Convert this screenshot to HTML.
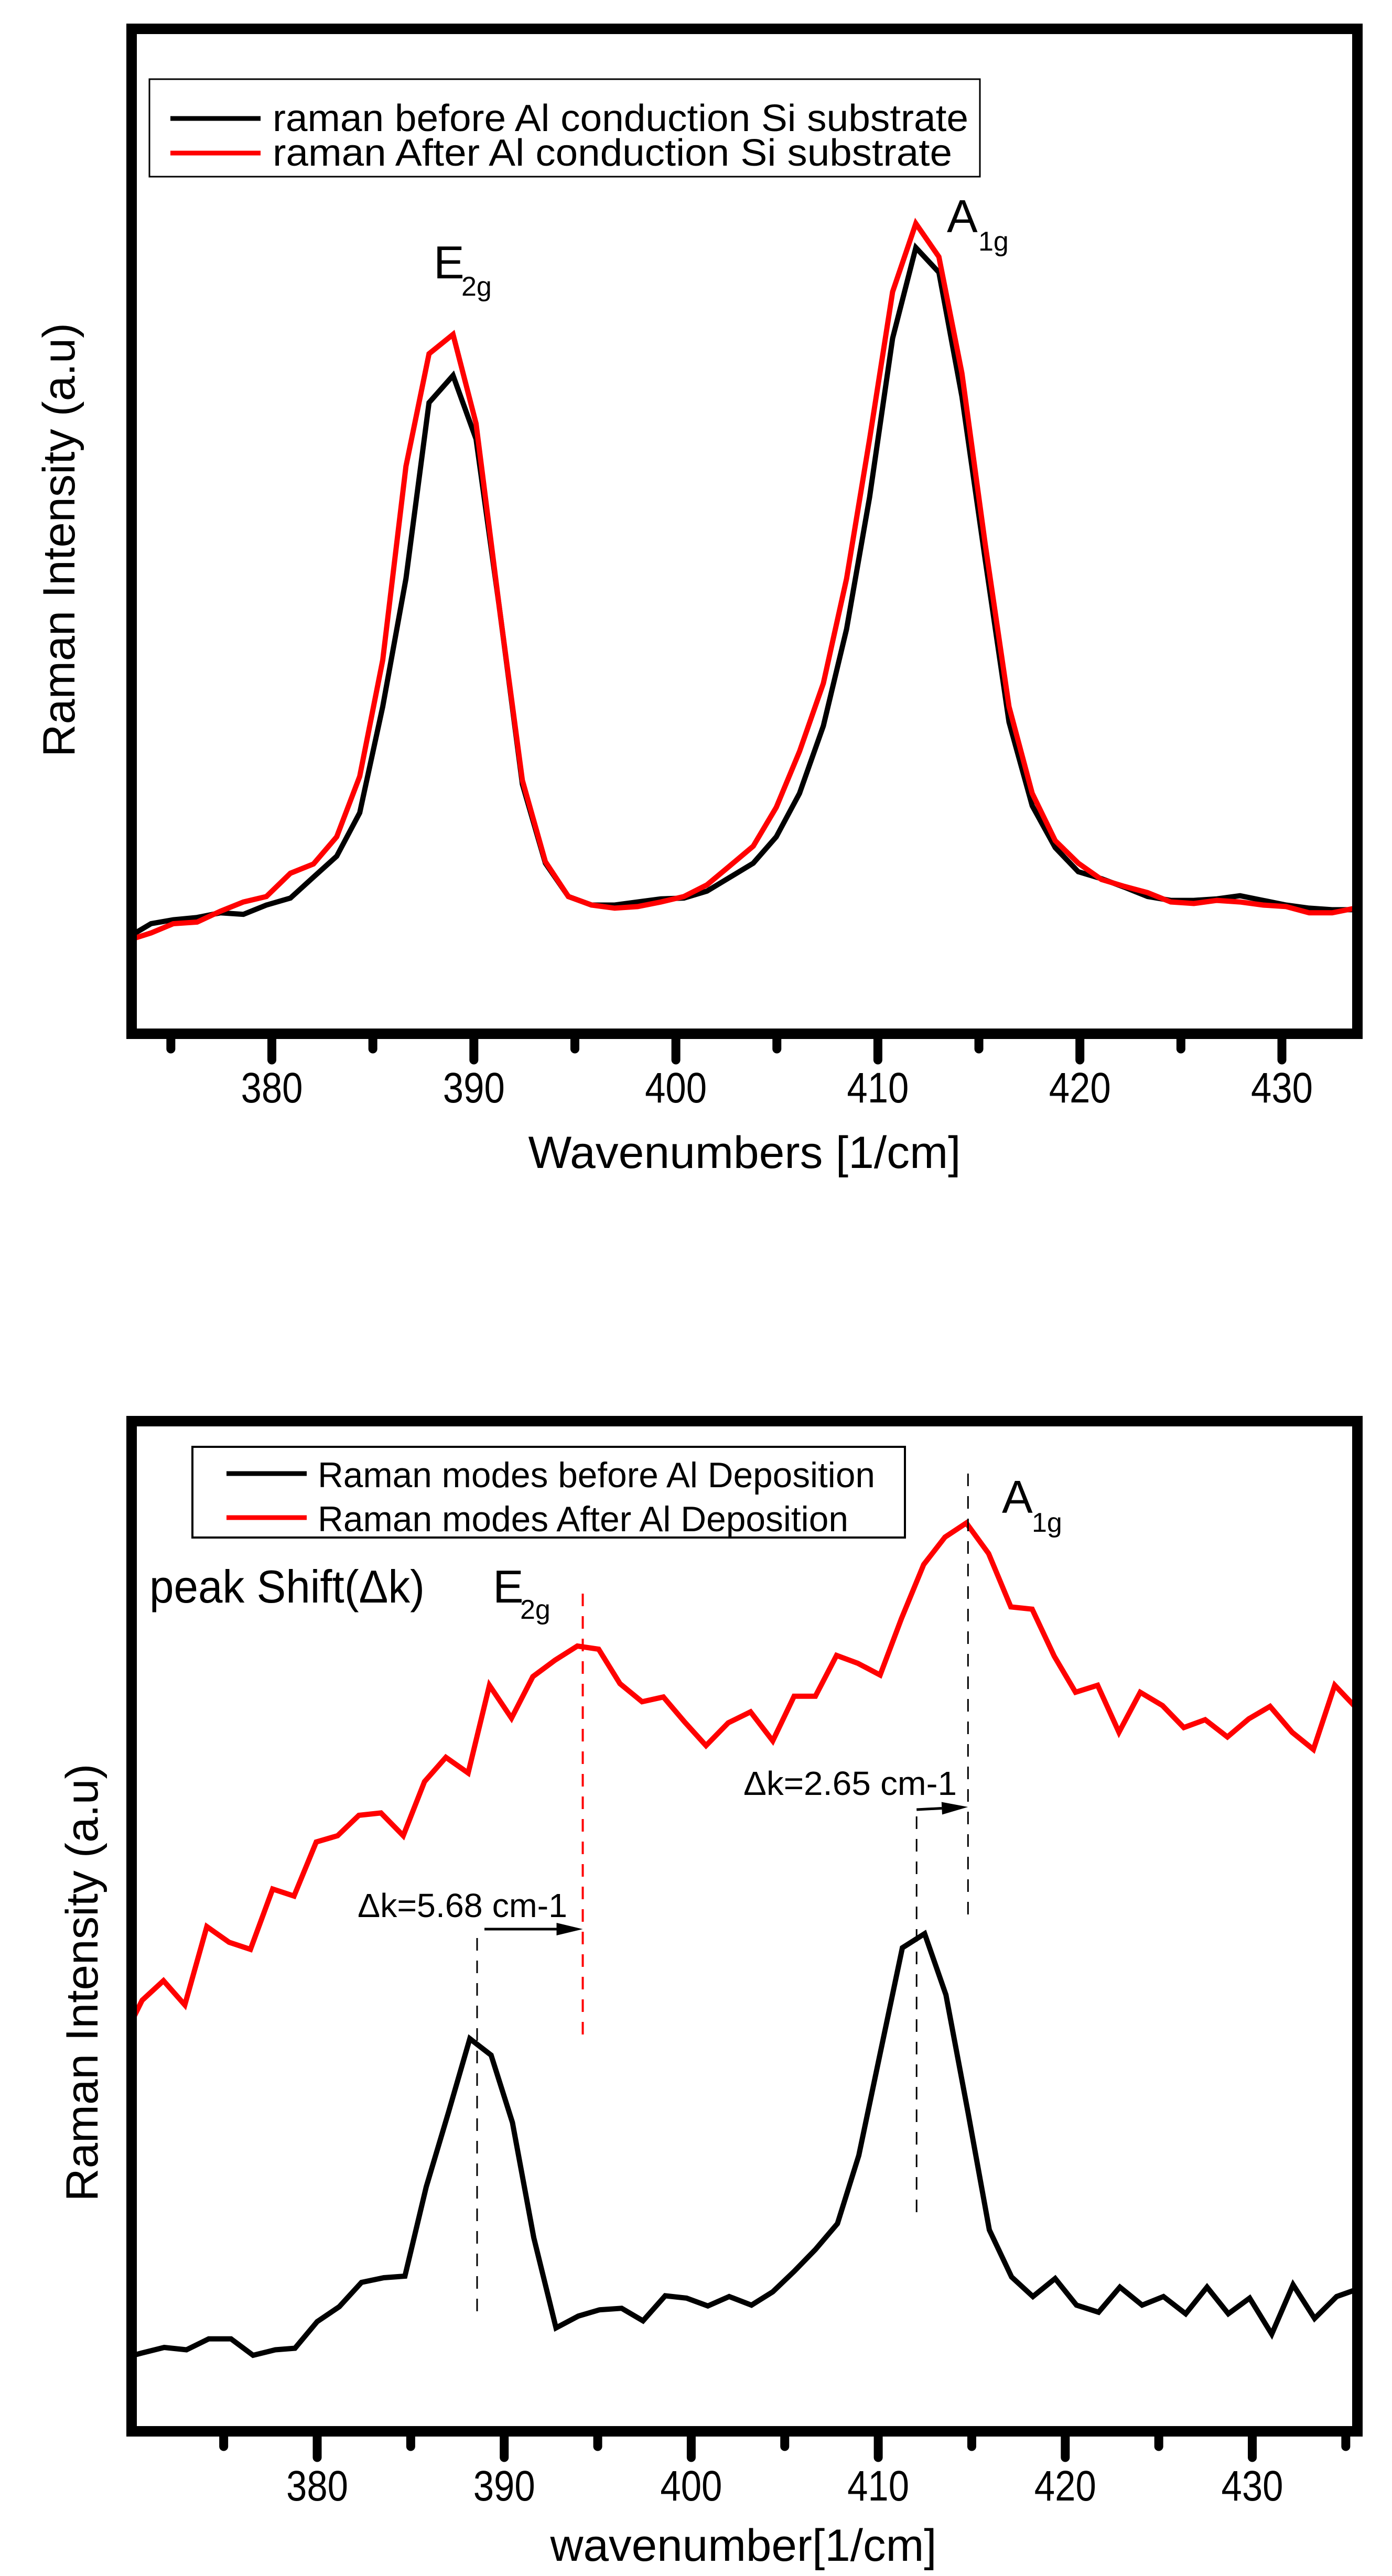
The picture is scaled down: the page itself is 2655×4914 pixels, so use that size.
<!DOCTYPE html>
<html><head><meta charset="utf-8"><style>
html,body{margin:0;padding:0;background:#fff}
svg{display:block}
text{font-family:"Liberation Sans",Arial,sans-serif;fill:#000}
</style></head><body>
<svg id="fig" width="2655" height="4914" viewBox="0 0 2655 4914" xmlns="http://www.w3.org/2000/svg">
<defs>
<clipPath id="clipTop"><rect x="251" y="55" width="2338" height="1917"/></clipPath>
<clipPath id="clipBot"><rect x="251" y="2711" width="2338" height="1927"/></clipPath>
</defs>
<g id="topChart"></g>
<g id="botChart"></g>
</svg>
<script>
// ---- Top chart data ----
const topWn = [373.05,374.02,375.12,376.30,377.45,378.59,379.73,380.92,382.06,383.21,384.35,385.49,386.64,387.78,388.97,390.11,391.25,392.40,393.54,394.68,395.83,396.97,398.11,399.26,400.40,401.54,402.69,403.83,404.97,406.12,407.30,408.45,409.59,410.73,411.88,413.02,414.16,415.31,416.49,417.64,418.78,419.92,421.07,422.21,423.35,424.50,425.64,426.78,427.93,429.07,430.21,431.35,432.49,433.64];
const topBefore = [127,142,147,150,156,154,166,175,202,229,285,422,587,814,849,767,552,322,220,177,166,166,170,174,175,184,202,220,254,310,397,522,692,897,1014,982,822,612,402,294,240,209,200,189,177,172,172,174,178,172,166,162,160,160];
const topAfter = [122,130,142,144,158,170,177,207,219,254,332,482,732,877,902,787,552,327,222,177,166,162,164,170,177,192,217,242,292,364,452,587,767,957,1045,1002,852,632,422,310,249,220,199,190,182,170,168,172,170,166,164,156,156,162];
const topTicks = [380,390,400,410,420,430];
const topMinor = [375,385,395,405,415,425];

// ---- Bottom chart data ----
const botWnBefore = [370.16,370.64,371.82,373.01,374.20,375.39,376.57,377.76,378.81,380.00,381.18,382.37,383.56,384.69,385.83,387.02,388.16,389.30,390.44,391.58,392.77,393.96,395.09,396.28,397.42,398.61,399.75,400.89,402.03,403.22,404.36,405.50,406.64,407.82,408.96,410.10,411.29,412.48,413.62,414.80,415.94,417.13,418.27,419.46,420.60,421.78,422.92,424.11,425.25,426.44,427.58,428.72,429.86,431.04,432.18,433.33,434.51,435.46];
const botBefore = [97,100,107,104,118,118,97,104,106,140,159,190,196,198,312,407,501,480,394,247,132,147,155,157,141,173,170,160,172,161,178,204,232,265,352,482,617,635,557,407,257,197,172,195,161,152,184,161,172,150,184,150,170,124,187,144,172,180];
const botWnAfter = [370.16,370.64,371.78,372.92,374.10,375.29,376.43,377.62,378.76,379.95,381.09,382.23,383.41,384.60,385.74,386.88,388.07,389.21,390.39,391.53,392.72,393.91,395.05,396.19,397.37,398.51,399.65,400.79,401.98,403.17,404.36,405.50,406.64,407.77,408.91,410.10,411.24,412.43,413.57,414.71,415.90,417.09,418.23,419.41,420.55,421.73,422.87,424.01,425.20,426.34,427.48,428.67,429.81,430.95,432.13,433.27,434.41,435.60];
const botAfter = [527,550,575,544,644,624,615,692,683,752,760,786,789,760,829,860,840,952,910,963,984,1002,998,954,931,937,905,875,904,918,881,938,938,990,980,965,1037,1106,1141,1159,1120,1052,1049,989,943,952,892,943,926,898,908,886,909,925,892,870,952,922];
const botTicks = [380,390,400,410,420,430];
const botMinor = [375,385,395,405,415,425,435];
const shiftE2g = [388.55, 394.2];
const shiftA1g = [412.05, 414.8];

const NS = "http://www.w3.org/2000/svg";
function mk(tag, attrs, parent, txt){
  const e = document.createElementNS(NS, tag);
  for (const k in attrs) e.setAttribute(k, attrs[k]);
  if (txt !== undefined) e.textContent = txt;
  parent.appendChild(e);
  return e;
}

// axis functions
const topX = v => 518.5 + (v - 380) * 38.53;
const topY = v => 1972 - v * 1.479;
const botX = v => 605 + (v - 380) * 35.67;
const botY = v => 4638 - v * 1.495;

function drawSeries(parent, xs, ys, fx, fy, color, clip, name){
  let d = "";
  for (let i = 0; i < xs.length; i++) d += (i ? "L" : "M") + fx(xs[i]).toFixed(1) + " " + fy(ys[i]).toFixed(1);
  const p = mk("path", {d: d, fill: "none", stroke: color, "stroke-width": 10, "stroke-linejoin": "miter", "clip-path": "url(#" + clip + ")"}, parent);
  
  
}
function drawFrame(parent, x0, y0, x1, y1, name){
  const r = mk("rect", {x: x0, y: y0, width: x1 - x0, height: y1 - y0, fill: "none", stroke: "#000", "stroke-width": 20}, parent);
  
  
}
function drawTicks(parent, ticks, minor, fx, yb, labY, prefix){
  ticks.forEach(t => {
    const l = mk("line", {x1: fx(t), x2: fx(t), y1: yb, y2: yb + 50, stroke: "#000", "stroke-width": 17, "stroke-linecap": "round"}, parent);
    
    
    const tx = mk("text", {x: fx(t), y: labY, "font-size": 82, "text-anchor": "middle", textLength: 118, lengthAdjust: "spacingAndGlyphs"}, parent, String(t));
    
    
  });
  minor.forEach(t => {
    const l = mk("line", {x1: fx(t), x2: fx(t), y1: yb, y2: yb + 29, stroke: "#000", "stroke-width": 17, "stroke-linecap": "round"}, parent);
    
    
  });
}

// ===== TOP =====
const T = document.getElementById("topChart");
drawSeries(T, topWn, topBefore, topX, topY, "#000", "clipTop", "series-before");
drawSeries(T, topWn, topAfter, topX, topY, "#ff0000", "clipTop", "series-after");
drawTicks(T, topTicks, topMinor, topX, 1972, 2103, "top-x");
drawFrame(T, 251, 55, 2589, 1972, "top-plot-frame");

const tl = mk("g", {}, T);


mk("rect", {x: 285, y: 151, width: 1584, height: 186, fill: "#fff", stroke: "#000", "stroke-width": 3}, tl);
mk("line", {x1: 325, x2: 497, y1: 226, y2: 226, stroke: "#000", "stroke-width": 9}, tl);
mk("line", {x1: 325, x2: 497, y1: 292, y2: 292, stroke: "#ff0000", "stroke-width": 9}, tl);
const tle1 = mk("text", {x: 520, y: 250, "font-size": 72, textLength: 1327, lengthAdjust: "spacingAndGlyphs"}, tl, "raman before Al conduction Si substrate");


const tle2 = mk("text", {x: 520, y: 316, "font-size": 72, textLength: 1296, lengthAdjust: "spacingAndGlyphs", "xml:space": "preserve"}, tl, "raman After  Al conduction Si substrate");



const te = mk("text", {x: 827, y: 531, "font-size": 88}, T, "E");


mk("text", {x: 880, y: 564, "font-size": 52}, T, "2g");
const ta = mk("text", {x: 1806, y: 443, "font-size": 88}, T, "A");


mk("text", {x: 1866, y: 478, "font-size": 52}, T, "1g");

const txt1 = mk("text", {x: 1420, y: 2228, "font-size": 86, "text-anchor": "middle", textLength: 825, lengthAdjust: "spacingAndGlyphs"}, T, "Wavenumbers [1/cm]");


const tyt = mk("text", {x: 0, y: 0, "font-size": 86, "text-anchor": "middle", textLength: 828, lengthAdjust: "spacingAndGlyphs", transform: "translate(142,1030) rotate(-90)"}, T, "Raman Intensity (a.u)");



// ===== BOTTOM =====
const B = document.getElementById("botChart");
drawSeries(B, botWnAfter, botAfter, botX, botY, "#ff0000", "clipBot", "series-after-deposition");
drawSeries(B, botWnBefore, botBefore, botX, botY, "#000", "clipBot", "series-before-deposition");
drawTicks(B, botTicks, botMinor, botX, 4638, 4770, "bottom-x");
drawFrame(B, 251, 2711, 2589, 4638, "bottom-plot-frame");

// dashed markers
const d1 = mk("line", {x1: botX(shiftE2g[1]), x2: botX(shiftE2g[1]), y1: 3040, y2: 3885, stroke: "#ff0000", "stroke-width": 4, "stroke-dasharray": "24 19"}, B);


const d2 = mk("line", {x1: botX(shiftE2g[0]), x2: botX(shiftE2g[0]), y1: 3697, y2: 4414, stroke: "#000", "stroke-width": 3, "stroke-dasharray": "24 19"}, B);


const d3 = mk("line", {x1: botX(shiftA1g[1]), x2: botX(shiftA1g[1]), y1: 2811, y2: 3660, stroke: "#000", "stroke-width": 3, "stroke-dasharray": "24 19"}, B);


const d4 = mk("line", {x1: botX(shiftA1g[0]), x2: botX(shiftA1g[0]), y1: 3465, y2: 4235, stroke: "#000", "stroke-width": 3, "stroke-dasharray": "24 19"}, B);



// arrows
function arrow(xa, ya, xb, yb, name){
  const g = mk("g", {}, B);
  
  
  const ang = Math.atan2(yb - ya, xb - xa);
  const L = 50, H = 12;
  const bx = xb - L * Math.cos(ang), by = yb - L * Math.sin(ang);
  mk("line", {x1: xa, y1: ya, x2: bx, y2: by, stroke: "#000", "stroke-width": 5}, g);
  const px = -Math.sin(ang) * H, py = Math.cos(ang) * H;
  mk("polygon", {points: `${xb},${yb} ${bx+px},${by+py} ${bx-px},${by-py}`, fill: "#000"}, g);
}
arrow(botX(shiftE2g[0]) + 14, 3680, botX(shiftE2g[1]), 3680, "shift-arrow-e2g");
arrow(botX(shiftA1g[0]), 3452, botX(shiftA1g[1]), 3447, "shift-arrow-a1g");

const s1 = mk("text", {x: 682, y: 3657, "font-size": 64, textLength: 400, lengthAdjust: "spacingAndGlyphs"}, B, "Δk=5.68 cm-1");


const s2 = mk("text", {x: 1418, y: 3424, "font-size": 64, textLength: 407, lengthAdjust: "spacingAndGlyphs"}, B, "Δk=2.65 cm-1");



const bl = mk("g", {}, B);


mk("rect", {x: 367, y: 2760, width: 1359, height: 173, fill: "#fff", stroke: "#000", "stroke-width": 4}, bl);
mk("line", {x1: 432, x2: 585, y1: 2811, y2: 2811, stroke: "#000", "stroke-width": 9}, bl);
mk("line", {x1: 432, x2: 585, y1: 2895, y2: 2895, stroke: "#ff0000", "stroke-width": 9}, bl);
const ble1 = mk("text", {x: 606, y: 2837, "font-size": 68, textLength: 1063, lengthAdjust: "spacingAndGlyphs"}, bl, "Raman modes before Al Deposition");


const ble2 = mk("text", {x: 606, y: 2921, "font-size": 68, textLength: 1012, lengthAdjust: "spacingAndGlyphs"}, bl, "Raman modes After Al Deposition");



const ps = mk("text", {x: 285, y: 3057, "font-size": 88, textLength: 525, lengthAdjust: "spacingAndGlyphs"}, B, "peak Shift(Δk)");


const be = mk("text", {x: 940, y: 3057, "font-size": 88}, B, "E");


mk("text", {x: 992, y: 3088, "font-size": 52}, B, "2g");
const ba = mk("text", {x: 1911, y: 2886, "font-size": 88}, B, "A");


mk("text", {x: 1968, y: 2922, "font-size": 52}, B, "1g");

const bxt = mk("text", {x: 1418, y: 4885, "font-size": 86, "text-anchor": "middle", textLength: 737, lengthAdjust: "spacingAndGlyphs"}, B, "wavenumber[1/cm]");


const byt = mk("text", {x: 0, y: 0, "font-size": 86, "text-anchor": "middle", textLength: 835, lengthAdjust: "spacingAndGlyphs", transform: "translate(186,3782) rotate(-90)"}, B, "Raman Intensity (a.u)");


</script>
</body></html>
